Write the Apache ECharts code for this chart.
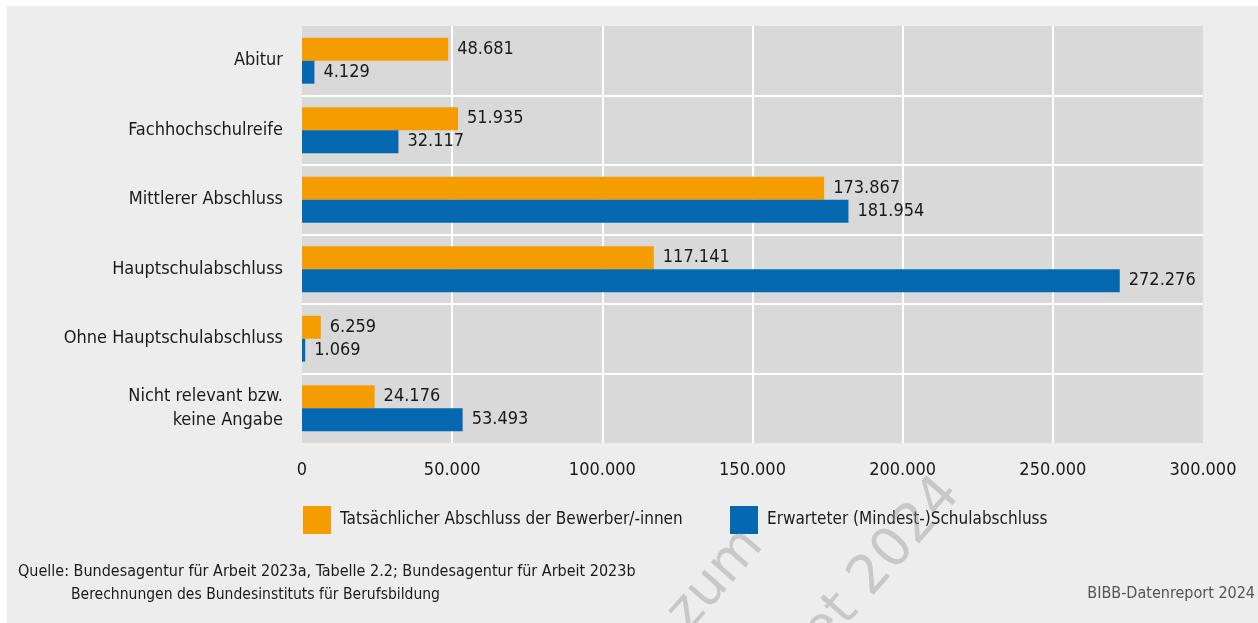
<!DOCTYPE html>
<html><head><meta charset="utf-8">
<script src="https://cdn.jsdelivr.net/npm/echarts@6/dist/echarts.min.js"></script>
<style>html,body{margin:0;padding:0;background:#fff}#c{width:1258px;height:623px}</style>
</head><body><div id="c"></div>
<script>
const categories = ['Abitur','Fachhochschulreife','Mittlerer Abschluss','Hauptschulabschluss','Ohne Hauptschulabschluss','Nicht relevant bzw.\nkeine Angabe'];
const seriesNames = ['Tatsächlicher Abschluss der Bewerber/-innen','Erwarteter (Mindest-)Schulabschluss'];
const actual = [48681, 51935, 173867, 117141, 6259, 24176];
const expected = [4129, 32117, 181954, 272276, 1069, 53493];
const xTicks = [0, 50000, 100000, 150000, 200000, 250000, 300000];

const FONT = 'DejaVu Sans Condensed';
const fmt = v => String(v).replace(/\B(?=(\d{3})+(?!\d))/g, '.');
const chart = echarts.init(document.getElementById('c'), null, {renderer:'canvas'});
const footFont = '16px "DejaVu Sans Condensed"';
chart.setOption({
  backgroundColor: '#ededed',
  textStyle: {fontFamily: FONT},
  animation: false,
  grid: {left: 302, right: 55, top: 26, bottom: 180, show: true, backgroundColor: '#d9d9d9', borderWidth: 0, containLabel: false},
  xAxis: {
    type: 'value', min: xTicks[0], max: xTicks[xTicks.length-1], interval: xTicks[1]-xTicks[0],
    axisLine: {show: false}, axisTick: {show: false},
    splitLine: {show: true, showMinLine: false, showMaxLine: false, lineStyle: {color: '#ffffff', width: 2}},
    axisLabel: {formatter: v => fmt(v), fontSize: 18, color: '#1a1a1a', fontFamily: FONT, margin: 18}
  },
  yAxis: {
    type: 'category', data: categories, inverse: true,
    axisLine: {show: false}, axisTick: {show: false},
    splitLine: {show: true, showMinLine: false, showMaxLine: false, lineStyle: {color: '#ffffff', width: 2}},
    axisLabel: {fontSize: 18, color: '#1a1a1a', fontFamily: FONT, margin: 19, align: 'right', lineHeight: 24}
  },
  legend: [
    {data: [seriesNames[0]], left: 298, top: 501, itemWidth: 28, itemHeight: 28, itemGap: 14, icon: 'rect',
     textStyle: {fontSize: 17, color: '#1a1a1a', fontFamily: FONT, padding: [0,0,0,4]}},
    {data: [seriesNames[1]], left: 725, top: 501, itemWidth: 28, itemHeight: 28, itemGap: 14, icon: 'rect',
     textStyle: {fontSize: 17, color: '#1a1a1a', fontFamily: FONT, padding: [0,0,0,4]}}
  ],
  series: [
    {name: seriesNames[0], type: 'bar', data: actual, barGap: '0%', barCategoryGap: '34%',
     itemStyle: {color: '#f59c00'},
     label: {show: true, position: 'right', distance: 9, formatter: p => fmt(p.value), fontSize: 18, color: '#1a1a1a', fontFamily: FONT}},
    {name: seriesNames[1], type: 'bar', data: expected, barGap: '0%', barCategoryGap: '34%',
     itemStyle: {color: '#0468b1'},
     label: {show: true, position: 'right', distance: 9, formatter: p => fmt(p.value), fontSize: 18, color: '#1a1a1a', fontFamily: FONT}}
  ],
  graphic: [
    {type: 'rect', left: 0, top: 0, shape: {width: 1258, height: 6}, style: {fill: '#ffffff'}, silent: true},
    {type: 'rect', left: 0, top: 0, shape: {width: 7, height: 623}, style: {fill: '#ffffff'}, silent: true},
    {type: 'text', x: 18, y: 572, style: {text: 'Quelle: Bundesagentur für Arbeit 2023a, Tabelle 2.2; Bundesagentur für Arbeit 2023b', font: footFont, fill: '#1a1a1a', verticalAlign: 'middle'}},
    {type: 'text', x: 71, y: 595, scaleX: 0.97, style: {text: 'Berechnungen des Bundesinstituts für Berufsbildung', font: footFont, fill: '#1a1a1a', verticalAlign: 'middle'}},
    {type: 'text', x: 1255, y: 594, style: {text: 'BIBB-Datenreport 2024', font: footFont, fill: '#555', align: 'right', verticalAlign: 'middle'}},
    {type: 'text', x: 716, y: 580, rotation: 0.85, style: {text: 'zum', font: '54px "DejaVu Sans"', fill: 'rgba(150,150,150,0.42)', align: 'center', verticalAlign: 'middle'}, silent: true, z: 100},
    {type: 'text', x: 882, y: 564, rotation: 0.85, style: {text: 'et 2024', font: '54px "DejaVu Sans"', fill: 'rgba(150,150,150,0.42)', align: 'center', verticalAlign: 'middle'}, silent: true, z: 100}
  ]
});
</script></body></html>
